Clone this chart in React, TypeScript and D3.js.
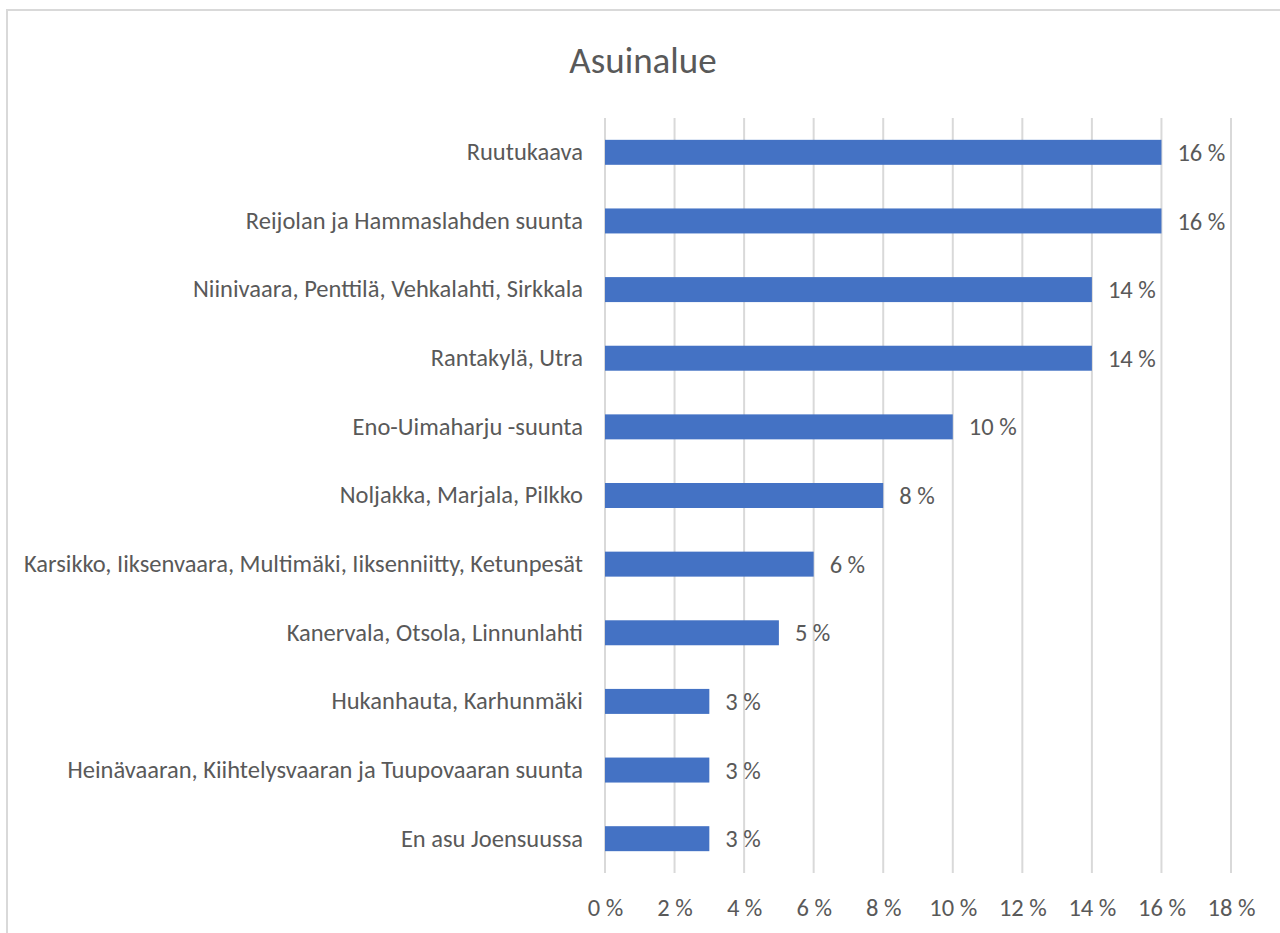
import React, { useEffect, useRef } from "react";
import * as d3 from "d3";

const categories = [
  "Ruutukaava",
  "Reijolan ja Hammaslahden suunta",
  "Niinivaara, Penttilä, Vehkalahti, Sirkkala",
  "Rantakylä, Utra",
  "Eno-Uimaharju -suunta",
  "Noljakka, Marjala, Pilkko",
  "Karsikko, Iiksenvaara, Multimäki, Iiksenniitty, Ketunpesät",
  "Kanervala, Otsola, Linnunlahti",
  "Hukanhauta, Karhunmäki",
  "Heinävaaran, Kiihtelysvaaran ja Tuupovaaran suunta",
  "En asu Joensuussa",
];
const values = [16, 16, 14, 14, 10, 8, 6, 5, 3, 3, 3];
const tickValues = [0, 2, 4, 6, 8, 10, 12, 14, 16, 18];

const width = 1280;
const height = 933;
const margin = { top: 118, right: 49, bottom: 60, left: 605 };
const font = "Carlito, Calibri, Lato, 'Open Sans', sans-serif";
const textColor = "#595959";
const labelSize = 24.5;

export default function App() {
  const ref = useRef<SVGSVGElement>(null);

  useEffect(() => {
    const node = ref.current;
    if (!node) return;
    const svg = d3.select(node);
    svg.selectAll("*").remove();

    const x = d3.scaleLinear().domain([0, 18]).range([margin.left, width - margin.right]);
    const y = d3
      .scaleBand()
      .domain(categories)
      .range([margin.top, height - margin.bottom])
      .paddingInner(0.636)
      .paddingOuter(0.318);

    // chart frame
    svg.append("rect").attr("width", width).attr("height", height).attr("fill", "#fff");
    svg
      .append("path")
      .attr("d", `M7,${height} V10 H${width}`)
      .attr("fill", "none")
      .attr("stroke", "#d9d9d9")
      .attr("stroke-width", 2);

    svg
      .append("text")
      .attr("x", 643)
      .attr("y", 73)
      .attr("text-anchor", "middle")
      .attr("font-family", font)
      .attr("font-size", 37)
      .attr("fill", textColor)
      .text("Asuinalue");

    // gridlines
    svg
      .append("g")
      .selectAll("line")
      .data(tickValues)
      .join("line")
      .attr("x1", (d) => x(d))
      .attr("x2", (d) => x(d))
      .attr("y1", margin.top)
      .attr("y2", height - margin.bottom)
      .attr("stroke", "#d9d9d9")
      .attr("stroke-width", 2);

    const xAxis = d3
      .axisBottom(x)
      .tickValues(tickValues)
      .tickSize(0)
      .tickPadding(26)
      .tickFormat((d) => `${d} %`);

    svg
      .append("g")
      .attr("transform", `translate(0,${height - margin.bottom})`)
      .call(xAxis)
      .call((g) => g.select(".domain").remove())
      .call((g) =>
        g
          .selectAll("text")
          .attr("font-family", font)
          .attr("font-size", labelSize)
          .attr("fill", textColor)
      );

    const yAxis = d3.axisLeft(y).tickSize(0).tickPadding(22);
    svg
      .append("g")
      .attr("transform", `translate(${margin.left},0)`)
      .call(yAxis)
      .call((g) => g.select(".domain").remove())
      .call((g) =>
        g
          .selectAll("text")
          .attr("font-family", font)
          .attr("font-size", labelSize)
          .attr("fill", textColor)
      );

    const data = categories.map((c, i) => ({ c, v: values[i] }));

    svg
      .append("g")
      .attr("fill", "#4472c4")
      .selectAll("rect")
      .data(data)
      .join("rect")
      .attr("x", x(0))
      .attr("y", (d) => y(d.c)!)
      .attr("width", (d) => x(d.v) - x(0))
      .attr("height", y.bandwidth());

    svg
      .append("g")
      .selectAll("text")
      .data(data)
      .join("text")
      .attr("x", (d) => x(d.v) + 16)
      .attr("y", (d) => y(d.c)! + y.bandwidth() / 2)
      .attr("dy", "0.35em")
      .attr("font-family", font)
      .attr("font-size", labelSize)
      .attr("fill", textColor)
      .text((d) => `${d.v} %`);
  }, []);

  return (
    <svg
      ref={ref}
      width={width}
      height={height}
      style={{ position: "absolute", left: 0, top: 0, display: "block" }}
    />
  );
}
